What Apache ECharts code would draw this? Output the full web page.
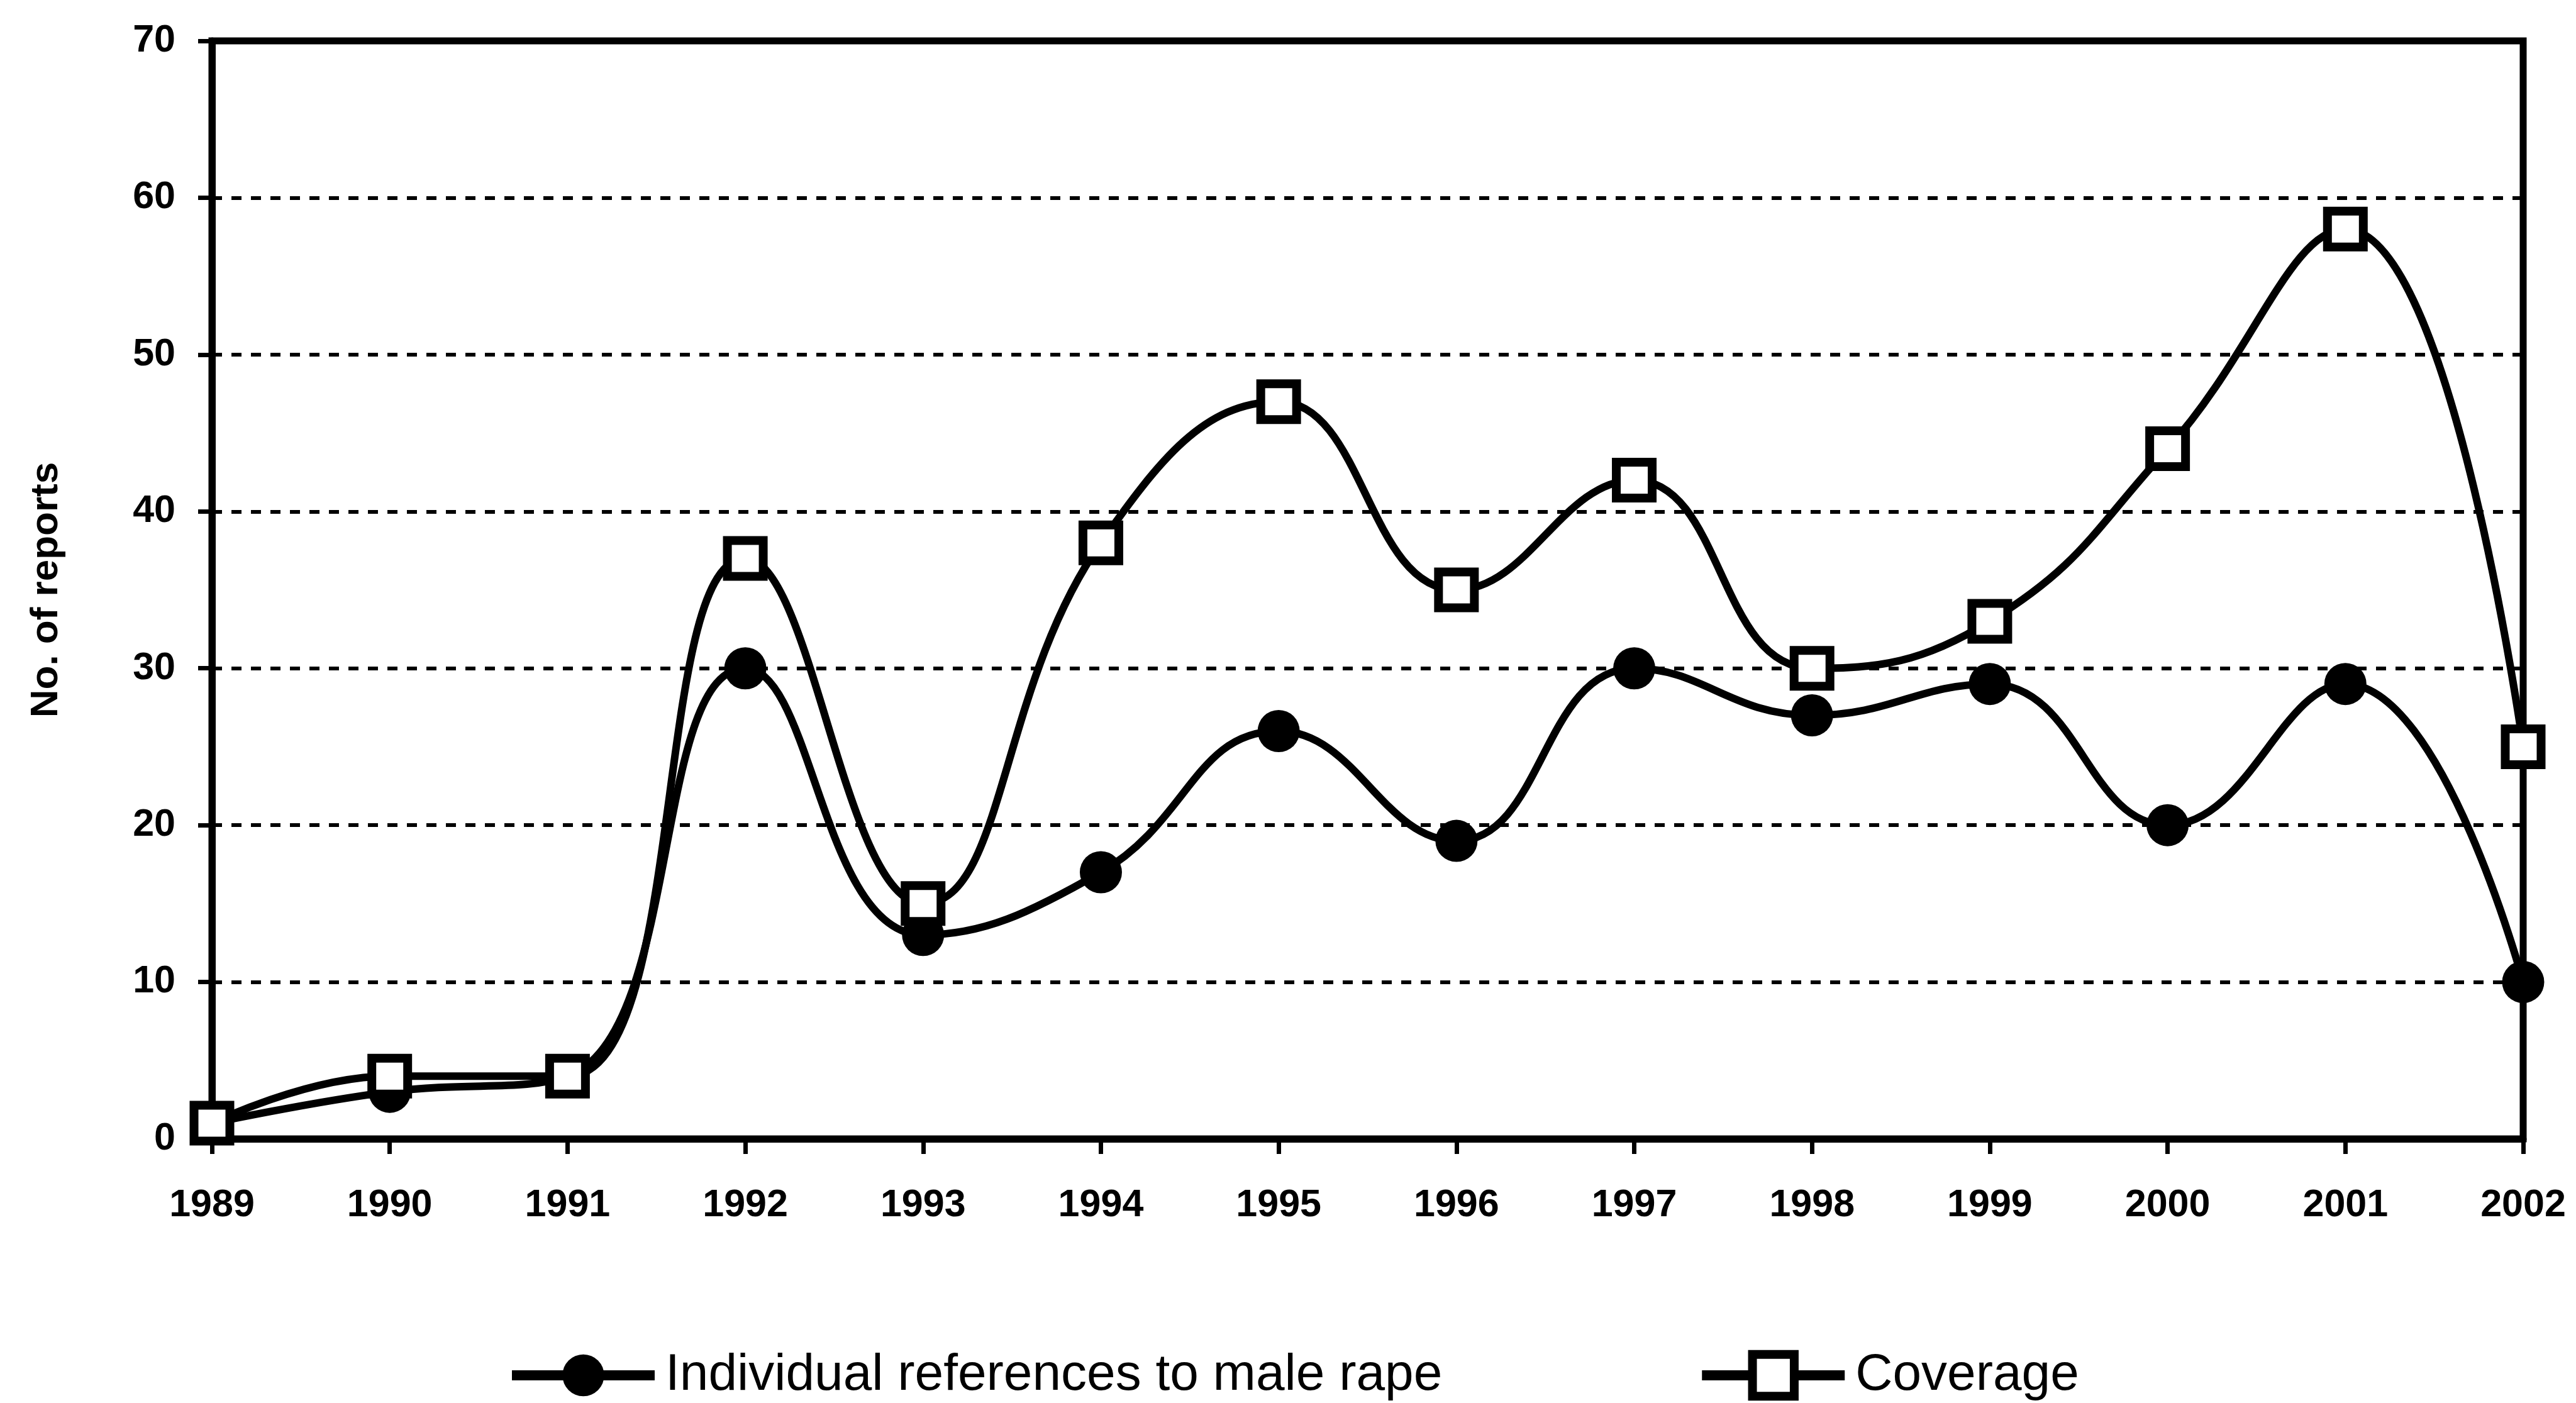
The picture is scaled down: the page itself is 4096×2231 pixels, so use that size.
<!DOCTYPE html>
<html>
<head>
<meta charset="utf-8">
<script src="https://cdn.jsdelivr.net/npm/echarts@6/dist/echarts.min.js"></script>
<style>
html,body{margin:0;padding:0;background:#fff;}
#chart{width:4096px;height:2231px;}
</style>
</head>
<body>
<div id="chart"></div>
<script>
// data
const years=['1989','1990','1991','1992','1993','1994','1995','1996','1997','1998','1999','2000','2001','2002'];
const maleRape=[1,3,4,30,13,17,26,19,30,27,29,20,29,10];
const coverage=[1,4,4,37,15,38,47,35,42,30,33,44,58,25];
const yTicks={min:0,max:70,interval:10};

const sans='"Liberation Sans",Arial,sans-serif';

const chart=echarts.init(document.getElementById('chart'));
chart.setOption({
    animation:false,
    backgroundColor:'#fff',
    grid:{left:337,right:84,top:65,bottom:420,show:true,borderColor:'#000',borderWidth:11,backgroundColor:'transparent'},
    legend:{
        left:801,top:2141,
        itemWidth:227,itemHeight:83,itemGap:405,
        textStyle:{fontFamily:sans,fontSize:82,color:'#000',padding:[0,0,0,12]},
        lineStyle:{width:16},
        data:[
            {name:'Individual references to male rape'},
            {name:'Coverage',itemStyle:{color:'#fff',borderColor:'#000',borderWidth:14}}
        ]
    },
    xAxis:{
        type:'category',data:years,boundaryGap:false,
        axisLine:{lineStyle:{color:'#000',width:11}},
        axisTick:{inside:false,length:24,alignWithLabel:true,lineStyle:{color:'#000',width:7}},
        axisLabel:{color:'#000',fontFamily:sans,fontWeight:'bold',fontSize:61,margin:76},
        splitLine:{show:false}
    },
    yAxis:{
        type:'value',min:yTicks.min,max:yTicks.max,interval:yTicks.interval,
        name:'No. of reports',nameLocation:'middle',nameGap:232,
        nameTextStyle:{fontFamily:sans,fontSize:62,fontWeight:'bold',color:'#000'},
        axisLine:{show:true,lineStyle:{color:'#000',width:11}},
        axisTick:{show:true,length:22,lineStyle:{color:'#000',width:7}},
        axisLabel:{color:'#000',fontFamily:sans,fontWeight:'bold',fontSize:61,margin:58},
        splitLine:{show:true,lineStyle:{color:'#000',width:6,type:[16,15]}}
    },
    series:[
        {
            name:'Individual references to male rape',type:'line',data:maleRape,
            smooth:0.45,symbol:'circle',symbolSize:67,
            lineStyle:{color:'#000',width:12},
            itemStyle:{color:'#000'}
        },
        {
            name:'Coverage',type:'line',data:coverage,
            smooth:0.45,symbol:'rect',symbolSize:57,
            lineStyle:{color:'#000',width:12},
            itemStyle:{color:'#fff',borderColor:'#000',borderWidth:14}
        }
    ]
});
window.addEventListener('resize',()=>chart.resize());
</script>
</body>
</html>
